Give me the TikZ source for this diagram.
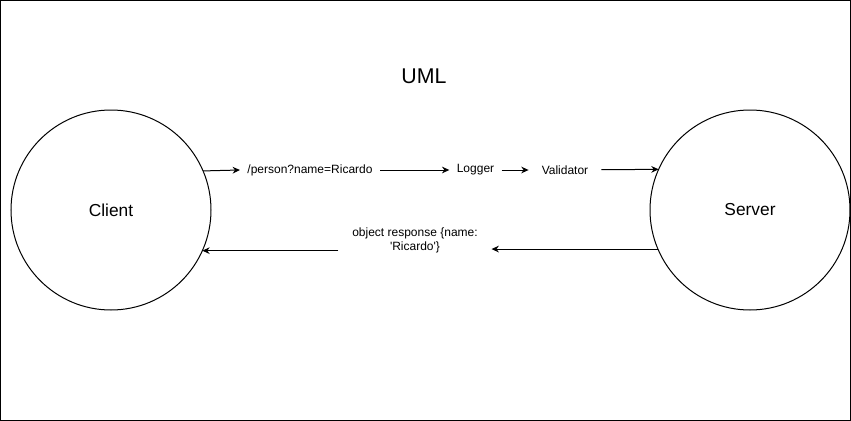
\documentclass[tikz,border=0pt]{standalone}
\usepackage{fontspec}
\setmainfont{Liberation Sans}
\usetikzlibrary{arrows.meta, positioning}

\begin{document}
\begin{tikzpicture}[x=0.75pt, y=-0.75pt, line width=0.75pt,
    >={Stealth[length=5.5pt, width=5pt]},
    actor/.style={circle, draw, minimum size=150pt, inner sep=0pt, outer sep=0pt, font=\fontsize{13}{15}\selectfont},
    msg/.style={inner xsep=5.25pt, inner ysep=2pt, align=center, font=\fontsize{9}{10.5}\selectfont}
]
\useasboundingbox (0,0) rectangle (851,421);
\draw (0.5,0.5) rectangle (850.5,420.5);

\node[font=\fontsize{16}{19}\selectfont] (title) at (424,76) {UML};
\node[actor] (client) at (111,210) {Client};
\node[actor] (server) at (750,210) {Server};

\node[msg] (query) at (310,170) {/person?name=Ricardo};
\node[msg] (logger) at (475.5,170) {Logger};
\node[msg, inner xsep=9.5pt] (validator) at (565,170) {Validator};
\node[msg, inner xsep=10pt] (resp) at (415,240) {object response \{name:\\\textquotesingle Ricardo\textquotesingle\}};

\draw[->] (client.23.6) -- (query.west);
\draw[->] (query) -- (logger);
\draw[->] (logger) -- (validator);
\draw[->] (validator) -- (server.156.4);
\draw[->] (server.203.5) -- (resp.east |- server.203.5);
\draw[->] (resp.west |- client.336) -- (client.336);
\end{tikzpicture}
\end{document}
